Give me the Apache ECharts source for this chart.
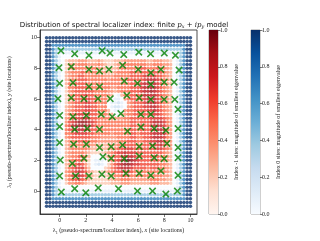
<!DOCTYPE html>
<html><head><meta charset="utf-8">
<script src="https://cdn.jsdelivr.net/npm/echarts@6/dist/echarts.min.js"></script>
<style>html,body{margin:0;padding:0;background:#fff}#c{width:320px;height:241px}</style>
</head><body><div id="c"></div>
<script>
// grid coordinates (lambda_1 columns, lambda_2 rows)
const gridX = [-1,-0.75,-0.5,-0.25,0,0.25,0.5,0.75,1,1.25,1.5,1.75,2,2.25,2.5,2.75,3,3.25,3.5,3.75,4,4.25,4.5,4.75,5,5.25,5.5,5.75,6,6.25,6.5,6.75,7,7.25,7.5,7.75,8,8.25,8.5,8.75,9,9.25,9.5,9.75,10];
const gridY = [10,9.75,9.5,9.25,9,8.75,8.5,8.25,8,7.75,7.5,7.25,7,6.75,6.5,6.25,6,5.75,5.5,5.25,5,4.75,4.5,4.25,4,3.75,3.5,3.25,3,2.75,2.5,2.25,2,1.75,1.5,1.25,1,0.75,0.5,0.25,0,-0.25,-0.5,-0.75,-1];
// cell codes: '0'-'9' = index -1 (red), value (d+1)/10 ; 'A'-'J' = index 0 (blue), value 0.1..1.0 ; '.' = index 0, value 0
const cellRows = [
"JJJJJ JJJJJ JJJJJ JJJJJ JJJJJ JJJJJ JJJJJ JJJJJ JJJJJ",
"JJJJJ JJJJJ JJJJJ JJJJJ JJJJJ JJJJJ JJJJJ JJJJJ JJJJJ",
"JJ GGGGG GGGGG GGGGG GGGGG GGGGG GGGGG GGGGG GGGGG G JJ",
"JJG DDDDD DDDDD DDDDD DDDDD DDDDD DDDDD DDDDD DDDD GJJ",
"JJGD AAAAA AAAAA AAAAA AAAAA AAAAA AAAAA AAAAA AA DGJJ",
"JJGDA ..... ..... ..... ..... ..... ..... ..... ADGJJ",
"JJGDA. 12223332223 21112223333 33322333221 .ADGJJ",
"JJGDA. 13334443334 32112334444 44433444332 .ADGJJ",
"JJGDA. 13444444443 32122344444 45544454432 .ADGJJ",
"JJGDA. 23444544443 33223444455 45555555432 .ADGJJ",
"JJGDA. 23445544444 43334444455 55666655432 .ADGJJ",
"JJGDA. 23445554444 44344444555 55677765432 .ADGJJ",
"JJGDA. 24455554444 44444444455 56777765432 .ADGJJ",
"JJGDA. 14455555444 44433444455 56778765432 .ADGJJ",
"JJGDA. 13455555544 44332344455 56778765432 .ADGJJ",
"JJGDA. 13455565544 4432.A24455 55777765432 .ADGJJ",
"JJGDA. 13455566554 442.AA.3455 55677765432 .ADGJJ",
"JJGDA. 13455566554 44.AABA.345 55677765432 .ADGJJ",
"JJGDA. 23455566554 44.ABBA.345 55667765432 .ADGJJ",
"JJGDA. 23455566554 442.AA.3445 55566765432 .ADGJJ",
"JJGDA. 24456666554 4432..23445 55556665432 .ADGJJ",
"JJGDA. 34566776554 44433334455 55556666543 .ADGJJ",
"JJGDA. 35678887654 44444444455 45556777643 .ADGJJ",
"JJGDA. 45788887654 44444444455 45556777643 .ADGJJ",
"JJGDA. 45677776554 44444444455 45556777743 .ADGJJ",
"JJGDA. 44566665544 44434444455 45556777743 .ADGJJ",
"JJGDA. 34555555444 33333444455 44556777643 .ADGJJ",
"JJGDA. 23445554443 33333444555 44556677643 .ADGJJ",
"JJGDA. 23444444332 22333445555 44555667543 .ADGJJ",
"JJGDA. 23444443221 22334556665 55555566543 .ADGJJ",
"JJGDA. 23444432111 12345667666 55555555432 .ADGJJ",
"JJGDA. 23445542... .1345567776 55555554432 .ADGJJ",
"JJGDA. 23455431.AA A.245678987 65555554432 .ADGJJ",
"JJGDA. 23456531.AB A.135678876 65555554432 .ADGJJ",
"JJGDA. 24566642... .1245677765 55545554432 .ADGJJ",
"JJGDA. 34567653211 12345566654 44444444432 .ADGJJ",
"JJGDA. 34667653211 11234455544 44444444332 .ADGJJ",
"JJGDA. 24556542111 11223344433 33334443322 .ADGJJ",
"JJGDA. 13344321111 11122233322 22223332221 .ADGJJ",
"JJGDA ..... ..... ..... ..... ..... ..... ..... ADGJJ",
"JJGD AAAAA AAAAA AAAAA AAAAA AAAAA AAAAA AAAAA AA DGJJ",
"JJG DDDDD DDDDD DDDDD DDDDD DDDDD DDDDD DDDDD DDDD GJJ",
"JJ GGGGG GGGGG GGGGG GGGGG GGGGG GGGGG GGGGG GGGGG G JJ",
"JJJJJ JJJJJ JJJJJ JJJJJ JJJJJ JJJJJ JJJJJ JJJJJ JJJJJ",
"JJJJJ JJJJJ JJJJJ JJJJJ JJJJJ JJJJJ JJJJJ JJJJJ JJJJJ"
];
// site locations (green x markers)
const siteX = [0.1,1.15,2.24,3.25,3.85,4.9,6.05,6.95,8.0,8.85,
 -0.05,0.89,2.24,3.05,3.77,4.81,6.01,6.97,7.74,9.13,
 0.0,1.02,2.24,3.05,4.94,5.95,6.97,7.99,8.75,
 -0.13,0.89,1.86,2.93,3.87,5.14,6.08,6.97,7.99,8.8,
 0.0,1.02,2.04,3.18,4.02,4.68,6.21,6.97,9.05,
 0.0,1.15,2.11,3.05,5.19,6.21,7.23,8.12,9.05,
 0.0,1.07,2.04,3.05,3.94,4.81,6.08,7.1,8.2,9.05,
 0.05,0.97,1.86,3.31,3.94,4.94,6.08,7.23,7.99,9.05,
 0.0,1.22,2.24,3.23,3.94,5.07,6.08,6.97,7.74,9.05,
 0.13,1.15,2.0,2.95,4.5,5.95,7.1,8.12,9.0];
const siteY = [9.15,8.95,8.85,9.15,9.0,8.9,9.05,8.95,9.0,8.85,
 8.04,8.11,7.93,7.82,7.93,8.2,7.93,7.71,7.93,7.89,
 7.02,7.06,6.8,6.8,7.17,7.02,6.95,7.1,7.1,
 6.02,6.08,6.02,6.02,6.02,6.24,6.08,5.97,5.97,5.97,
 4.93,4.84,4.93,5.0,4.84,5.05,5.0,5.0,5.33,
 4.2,4.02,4.07,4.02,3.9,4.17,4.07,3.96,4.07,
 3.16,3.05,3.05,2.83,2.89,3.0,2.9,2.94,3.1,2.83,
 2.02,1.8,2.13,2.24,2.13,2.11,2.28,2.17,2.11,2.17,
 0.98,0.98,0.98,1.09,0.98,1.15,1.15,1.02,1.31,1.02,
 -0.07,0.15,-0.12,0.2,0.15,0.0,0.0,-0.2,0.0];
const xTicks = [0,2,4,6,8,10];
const yTicks = [0,2,4,6,8,10];
const cbTicks = [0,0.2,0.4,0.6,0.8,1.0];
const redStops = ['#fff5f0','#fee0d2','#fcbba1','#fc9272','#fb6a4a','#ef3b2c','#cb181d','#a50f15','#67000d'];
const blueStops = ['#f7fbff','#deebf7','#c6dbef','#9ecae1','#6baed6','#4292c6','#2171b5','#08519c','#08306b'];

const redData = [], blueData = [];
cellRows.forEach((r, j) => {
  const row = r.replace(/ /g, '');
  if (row.length !== 45) throw new Error('row ' + j + ' length ' + row.length);
  for (let i = 0; i < row.length; i++) {
    const ch = row[i];
    if (ch >= '0' && ch <= '9') redData.push([gridX[i], gridY[j], (+ch + 1) / 10]);
    else if (ch === '.') blueData.push([gridX[i], gridY[j], 0]);
    else blueData.push([gridX[i], gridY[j], (ch.charCodeAt(0) - 64) / 10]);
  }
});
const siteData = siteX.map((x, k) => [x, siteY[k]]);

const serif = 'Liberation Serif';
const grad = stops => ({type:'linear', x:0, y:1, x2:0, y2:0,
  colorStops: stops.map((c, k) => ({offset: k / (stops.length - 1), color: c}))});
const xMark = 'path://M1.5,0 L5,3.5 L8.5,0 L10,1.5 L6.5,5 L10,8.5 L8.5,10 L5,6.5 L1.5,10 L0,8.5 L3.5,5 L0,1.5 Z';

function cbAxis(idx, label) {
  return {gridIndex: idx, type: 'value', min: 0, max: 1, interval: 0.2, position: 'right',
    axisLine: {show: false}, splitLine: {show: false},
    axisTick: {show: true, length: 2.5, lineStyle: {color: '#222', width: 0.6}},
    axisLabel: {fontFamily: serif, fontSize: 6, color: '#222', margin: 2, formatter: v => v.toFixed(1)},
    name: label, nameLocation: 'middle', nameRotate: 90, nameGap: 15,
    nameTextStyle: {fontFamily: serif, fontSize: 6, color: '#222'}};
}

const chart = echarts.init(document.getElementById('c'), null, {renderer: 'canvas'});
chart.setOption({
  animation: false,
  backgroundColor: '#fff',
  title: {
    text: 'Distribution of spectral localizer index: finite {i|p}{s|x} + {i|ip}{s|y} model',
    left: 119, top: 16, textAlign: 'center',
    textStyle: {fontFamily: 'DejaVu Sans', fontSize: 7, fontWeight: 'normal', color: '#111',
      rich: {i: {fontFamily: 'DejaVu Serif', fontStyle: 'italic', fontSize: 7, color: '#111'},
             s: {fontFamily: 'DejaVu Serif', fontStyle: 'italic', fontSize: 4.8, padding: [3,0,0,0], color: '#111'}}}
  },
  grid: [
    {left: 40, top: 30, width: 157, height: 184, show: true, borderColor: '#222', borderWidth: 0.8},
    {left: 209, top: 30, width: 9, height: 184, show: true, borderColor: '#888', borderWidth: 0.8},
    {left: 251, top: 30, width: 9, height: 184, show: true, borderColor: '#888', borderWidth: 0.8}
  ],
  xAxis: [
    {gridIndex: 0, type: 'value', min: -1.5, max: 10.5, splitLine: {show: false},
     axisLine: {show: true, onZero: false, lineStyle: {color: '#222', width: 0.8}},
     axisTick: {show: true, customValues: xTicks, length: 3, lineStyle: {color: '#222', width: 0.6}},
     axisLabel: {customValues: xTicks, fontFamily: serif, fontSize: 6, color: '#222', margin: 3},
     name: '{g|λ}{s|1} (pseudo-spectrum/localizer index), {i|x} (site locations)',
     nameLocation: 'middle', nameGap: 12,
     nameTextStyle: {fontFamily: serif, fontSize: 6, color: '#222',
       rich: {g: {fontFamily: serif, fontSize: 6, color: '#222'}, s: {fontFamily: serif, fontSize: 4.2, padding: [3,0,0,0], color: '#222'},
              i: {fontFamily: serif, fontStyle: 'italic', fontSize: 6, color: '#222'}}}},
    {gridIndex: 1, type: 'category', data: ['c'], show: false},
    {gridIndex: 2, type: 'category', data: ['c'], show: false}
  ],
  yAxis: [
    {gridIndex: 0, type: 'value', min: -1.5, max: 10.5, splitLine: {show: false},
     axisLine: {show: true, onZero: false, lineStyle: {color: '#222', width: 0.8}},
     axisTick: {show: true, customValues: yTicks, length: 3, lineStyle: {color: '#222', width: 0.6}},
     axisLabel: {customValues: yTicks, fontFamily: serif, fontSize: 6, color: '#222', margin: 3},
     name: '{g|λ}{s|2} (pseudo-spectrum/localizer index), {i|y} (site locations)',
     nameLocation: 'middle', nameGap: 27, nameRotate: 90,
     nameTextStyle: {fontFamily: serif, fontSize: 6, color: '#222',
       rich: {g: {fontFamily: serif, fontSize: 6, color: '#222'}, s: {fontFamily: serif, fontSize: 4.2, padding: [3,0,0,0], color: '#222'},
              i: {fontFamily: serif, fontStyle: 'italic', fontSize: 6, color: '#222'}}}},
    cbAxis(1, 'Index -1 sites: magnitude of smallest eigenvalue'),
    cbAxis(2, 'Index 0 sites: magnitude of smallest eigenvalue')
  ],
  visualMap: [
    {type: 'continuous', show: false, seriesIndex: 0, dimension: 2, min: 0, max: 1, inRange: {color: redStops}},
    {type: 'continuous', show: false, seriesIndex: 1, dimension: 2, min: 0, max: 1, inRange: {color: blueStops}}
  ],
  series: [
    {type: 'scatter', xAxisIndex: 0, yAxisIndex: 0, data: redData, symbol: 'circle', symbolSize: 3.5, z: 2},
    {type: 'scatter', xAxisIndex: 0, yAxisIndex: 0, data: blueData, symbol: 'circle', symbolSize: 3.5, z: 2},
    {type: 'scatter', xAxisIndex: 0, yAxisIndex: 0, data: siteData, symbol: xMark, symbolSize: 7.5,
     itemStyle: {color: '#008000'}, z: 4},
    {type: 'bar', xAxisIndex: 1, yAxisIndex: 1, data: [1], barWidth: '100%', itemStyle: {color: grad(redStops)}, silent: true},
    {type: 'bar', xAxisIndex: 2, yAxisIndex: 2, data: [1], barWidth: '100%', itemStyle: {color: grad(blueStops)}, silent: true}
  ]
});
</script></body></html>
